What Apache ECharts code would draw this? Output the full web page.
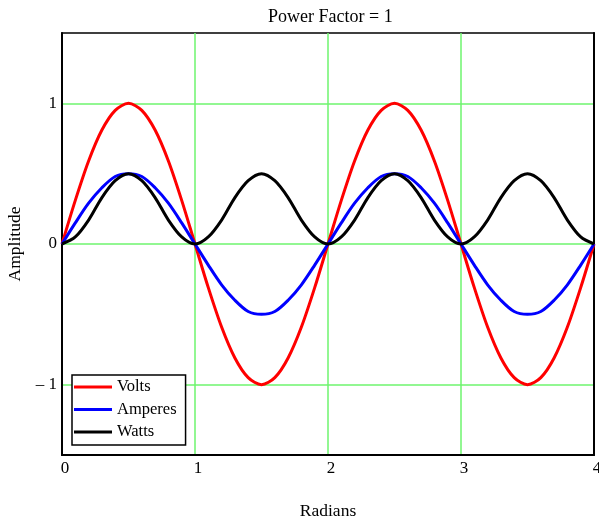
<!DOCTYPE html>
<html>
<head>
<meta charset="utf-8">
<script src="https://cdn.jsdelivr.net/npm/echarts@6/dist/echarts.min.js"></script>
<style>
  html, body { margin: 0; padding: 0; background: #fff; }
  #chart { width: 599px; height: 520px; }
</style>
</head>
<body>
<div id="chart"></div>
<script>
// x positions in radians (units of pi)
const radians = [
  0, 0.1, 0.2, 0.3, 0.4, 0.5, 0.6, 0.7, 0.8, 0.9,
  1, 1.1, 1.2, 1.3, 1.4, 1.5, 1.6, 1.7, 1.8, 1.9,
  2, 2.1, 2.2, 2.3, 2.4, 2.5, 2.6, 2.7, 2.8, 2.9,
  3, 3.1, 3.2, 3.3, 3.4, 3.5, 3.6, 3.7, 3.8, 3.9,
  4
];
const volts = [
  0, 0.31, 0.59, 0.81, 0.95, 1, 0.95, 0.81, 0.59, 0.31,
  0, -0.31, -0.59, -0.81, -0.95, -1, -0.95, -0.81, -0.59, -0.31,
  0, 0.31, 0.59, 0.81, 0.95, 1, 0.95, 0.81, 0.59, 0.31,
  0, -0.31, -0.59, -0.81, -0.95, -1, -0.95, -0.81, -0.59, -0.31,
  0
];
const amperes = [
  0, 0.15, 0.29, 0.4, 0.48, 0.5, 0.48, 0.4, 0.29, 0.15,
  0, -0.15, -0.29, -0.4, -0.48, -0.5, -0.48, -0.4, -0.29, -0.15,
  0, 0.15, 0.29, 0.4, 0.48, 0.5, 0.48, 0.4, 0.29, 0.15,
  0, -0.15, -0.29, -0.4, -0.48, -0.5, -0.48, -0.4, -0.29, -0.15,
  0
];
const watts = [
  0, 0.05, 0.17, 0.33, 0.45, 0.5, 0.45, 0.33, 0.17, 0.05,
  0, 0.05, 0.17, 0.33, 0.45, 0.5, 0.45, 0.33, 0.17, 0.05,
  0, 0.05, 0.17, 0.33, 0.45, 0.5, 0.45, 0.33, 0.17, 0.05,
  0, 0.05, 0.17, 0.33, 0.45, 0.5, 0.45, 0.33, 0.17, 0.05,
  0
];
const xTicks = [0, 1, 2, 3, 4];
const yTicks = [-1, 0, 1];

const font = 'Liberation Serif, Times New Roman, serif';
const gridGreen = '#6ef56e';

function pairs(ys) {
  return radians.map((x, i) => [x, ys[i]]);
}

function lineSeries(name, ys, color) {
  return {
    name: name,
    type: 'line',
    data: pairs(ys),
    smooth: 0.3,
    showSymbol: false,
    lineStyle: { color: color, width: 3 },
    itemStyle: { color: color }
  };
}

const chart = echarts.init(document.getElementById('chart'));
chart.setOption({
  animation: false,
  title: {
    text: 'Power Factor = 1',
    left: 263,
    top: 3,
    textStyle: { fontFamily: font, fontSize: 18, fontWeight: 'normal', color: '#000' }
  },
  legend: {
    orient: 'vertical',
    left: 72,
    top: 375,
    icon: 'rect',
    itemWidth: 38,
    itemHeight: 3,
    itemGap: 4.5,
    itemTextGap: 6,
    padding: [3, 9, 4, 2],
    borderColor: '#000',
    borderWidth: 1.5,
    backgroundColor: '#fff',
    textStyle: { fontFamily: font, fontSize: 16.5, color: '#000', lineHeight: 18 },
    data: ['Volts', 'Amperes', 'Watts']
  },
  grid: {
    left: 62,
    right: 5,
    top: 33,
    bottom: 65,
    outerBoundsMode: 'none',
    containLabel: false,
    show: true,
    borderColor: '#000',
    borderWidth: 1.5
  },
  xAxis: {
    type: 'value',
    min: 0,
    max: 4,
    interval: 1,
    name: 'Radians',
    nameLocation: 'middle',
    nameGap: 47,
    nameTextStyle: { fontFamily: font, fontSize: 17.5, color: '#000' },
    axisLine: { onZero: false, lineStyle: { color: '#000', width: 2 } },
    axisTick: { show: false },
    axisLabel: {
      fontFamily: font, fontSize: 17, color: '#000', margin: 5,
      padding: [0, 0, 0, 6],
      customValues: xTicks
    },
    splitLine: { show: true, lineStyle: { color: gridGreen, width: 1.5 } }
  },
  yAxis: [
    {
      type: 'value',
      min: -1.5,
      max: 1.5,
      name: 'Amplitude',
      nameLocation: 'middle',
      nameGap: 36,
      nameTextStyle: { fontFamily: font, fontSize: 17.5, color: '#000' },
      axisLine: { show: true, onZero: false, lineStyle: { color: '#000', width: 2 } },
      axisTick: { show: false, customValues: yTicks },
      axisLabel: {
        fontFamily: font, fontSize: 17, color: '#000', margin: 5,
        padding: [8, 0, 0, 0],
        customValues: yTicks,
        formatter: v => (v < 0 ? '\u2013 ' + Math.abs(v) : String(v))
      },
      splitLine: { show: true, lineStyle: { color: gridGreen, width: 1.5 } }
    },
    {
      // right frame edge, drawn over the last vertical grid line
      type: 'value',
      position: 'right',
      min: -1.5,
      max: 1.5,
      axisLine: { show: true, onZero: false, lineStyle: { color: '#000', width: 2 } },
      axisTick: { show: false },
      axisLabel: { show: false },
      splitLine: { show: false }
    }
  ],
  series: [
    lineSeries('Volts', volts, '#ff0000'),
    lineSeries('Amperes', amperes, '#0000ff'),
    lineSeries('Watts', watts, '#000000')
  ]
});
</script>
</body>
</html>
